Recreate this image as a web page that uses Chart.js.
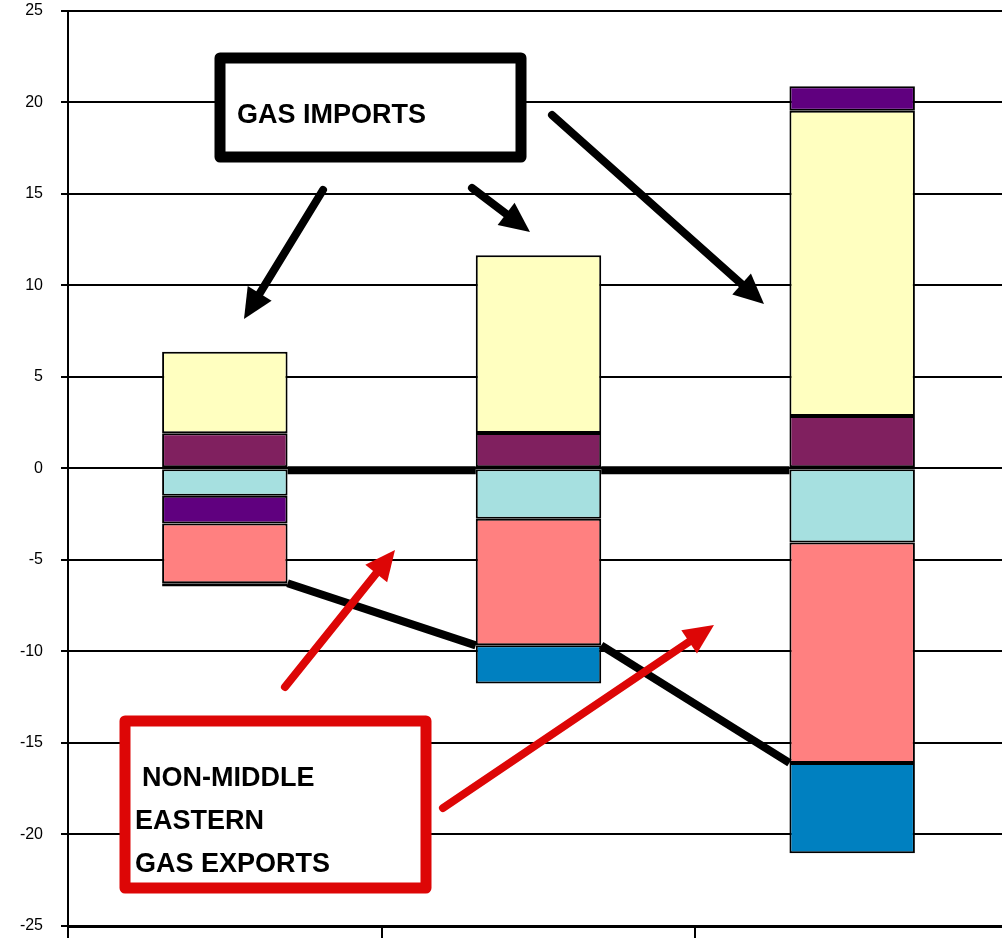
<!DOCTYPE html>
<html>
<head>
<meta charset="utf-8">
<title>Gas imports / exports</title>
<script src="https://cdn.jsdelivr.net/npm/chart.js@4"></script>
<style>
  html, body { margin: 0; padding: 0; background: #fff; overflow: hidden; }
  /* the original plot runs off the top-right edge, so the canvas is shifted */
  #wrap { position: absolute; left: 0; top: -17px; width: 1009px; height: 977px; }
</style>
</head>
<body>
<div id="wrap"><canvas id="chart" width="1009" height="977"></canvas></div>
<script>
// ---- data ----
// category labels fall below the visible area of the original, so left blank
const categories = ["", "", ""];
const maroon = [1.91, 1.93, 2.85];
const cyan   = [-1.50, -2.75, -4.05];
const yellow = [4.45, 9.71, 16.68];
const purple = [-1.51, 0, 1.34];
const pink   = [-3.27, -6.92, -12.04];
const blue   = [-0.18, -2.09, -4.94];
const yTicks = [-25, -20, -15, -10, -5, 0, 5, 10, 15, 20, 25];

const FONT = '"Liberation Sans", Arial, sans-serif';
const SHIFT = 17; // canvas offset from page top

// ---- annotation drawing (boxes, arrows, series lines) ----
function arrow(ctx, x1, y1, x2, y2, color, lw) {
  const a = Math.atan2(y2 - y1, x2 - x1);
  const head = 30, half = 14;
  const bx = x2 - head * Math.cos(a), by = y2 - head * Math.sin(a);
  ctx.strokeStyle = color;
  ctx.lineWidth = lw;
  ctx.lineCap = "round";
  ctx.beginPath();
  ctx.moveTo(x1, y1);
  ctx.lineTo(bx + 4 * Math.cos(a), by + 4 * Math.sin(a));
  ctx.stroke();
  ctx.fillStyle = color;
  ctx.beginPath();
  ctx.moveTo(x2, y2);
  ctx.lineTo(bx - half * Math.sin(a), by + half * Math.cos(a));
  ctx.lineTo(bx + half * Math.sin(a), by - half * Math.cos(a));
  ctx.closePath();
  ctx.fill();
}

function box(ctx, x, y, w, h, color, lines) {
  ctx.save();
  ctx.fillStyle = "#fff";
  ctx.fillRect(x, y, w, h);
  ctx.strokeStyle = color;
  ctx.lineWidth = 11;
  ctx.lineJoin = "round";
  ctx.strokeRect(x, y, w, h);
  ctx.fillStyle = "#000";
  ctx.font = "bold 27px " + FONT;
  ctx.textBaseline = "alphabetic";
  lines.forEach(l => ctx.fillText(l.t, l.x, l.y));
  ctx.restore();
}

const annotations = {
  id: "annotations",
  afterDatasetsDraw(chart) {
    const ctx = chart.ctx;
    const y = chart.scales.y;
    const barsPink = chart.getDatasetMeta(4).data;
    const barsCyan = chart.getDatasetMeta(1).data;
    ctx.save();
    ctx.strokeStyle = "#000";
    ctx.lineCap = "butt";
    ctx.lineWidth = 8;
    // zero connector lines between bars
    const y0 = y.getPixelForValue(0) + 2;
    for (let i = 0; i < barsCyan.length - 1; i++) {
      const a = barsCyan[i], b = barsCyan[i + 1];
      ctx.beginPath();
      ctx.moveTo(a.x + a.width / 2, y0);
      ctx.lineTo(b.x - b.width / 2, y0);
      ctx.stroke();
    }
    // series lines joining the bottom of the pink segments
    for (let i = 0; i < barsPink.length - 1; i++) {
      const a = barsPink[i], b = barsPink[i + 1];
      ctx.beginPath();
      ctx.moveTo(a.x + a.width / 2, a.y);
      ctx.lineTo(b.x - b.width / 2, b.y);
      ctx.stroke();
    }
    ctx.restore();

    ctx.save();
    ctx.translate(0, SHIFT);
    // GAS IMPORTS callout
    box(ctx, 220, 58, 301, 99, "#000", [{ t: "GAS IMPORTS", x: 237, y: 123 }]);
    arrow(ctx, 323, 190, 244, 319, "#000", 8);
    arrow(ctx, 472, 188, 530, 232, "#000", 8);
    arrow(ctx, 552, 115, 764, 304, "#000", 8);
    // exports callout
    arrow(ctx, 285, 687, 395, 550, "#DD0606", 8);
    arrow(ctx, 443, 808, 714, 625, "#DD0606", 8);
    box(ctx, 125, 721, 301, 167, "#DD0606", [
      { t: "NON-MIDDLE", x: 142, y: 786 },
      { t: "EASTERN", x: 135, y: 829 },
      { t: "GAS EXPORTS", x: 135, y: 872 }
    ]);
    ctx.restore();
  }
};

const mk = (data, color) => ({
  data,
  backgroundColor: color,
  borderColor: "#000",
  borderWidth: 2,
  borderSkipped: false,
  barPercentage: 0.4,
  categoryPercentage: 1
});

new Chart(document.getElementById("chart"), {
  type: "bar",
  data: {
    labels: categories,
    datasets: [
      mk(maroon, "#80205F"),
      mk(cyan, "#A6E0E0"),
      mk(yellow, "#FFFFC0"),
      mk(purple, "#60007F"),
      mk(pink, "#FF8080"),
      mk(blue, "#0080C0")
    ]
  },
  options: {
    responsive: false,
    devicePixelRatio: 1,
    animation: false,
    layout: { padding: { top: 10, right: 0, left: 0, bottom: 0 } },
    plugins: { legend: { display: false }, tooltip: { enabled: false } },
    scales: {
      x: {
        stacked: true,
        offset: true,
        grid: { offset: true, drawOnChartArea: false, drawTicks: true, tickLength: 12, color: "#000", lineWidth: 2 },
        border: { display: true, color: "#000", width: 3 },
        ticks: { display: true, font: { family: FONT, size: 16 }, color: "#000" },
        afterFit(s) { s.height = 34; }
      },
      y: {
        stacked: true,
        min: -25,
        max: 25,
        afterBuildTicks(s) { s.ticks = yTicks.map(v => ({ value: v })); },
        grid: { color: "#000", lineWidth: 2, tickLength: 7 },
        border: { display: true, color: "#000", width: 2 },
        ticks: { font: { family: FONT, size: 16 }, color: "#000", padding: 18 },
        afterFit(s) { s.width = 68; }
      }
    }
  },
  plugins: [annotations]
});
</script>
</body>
</html>
